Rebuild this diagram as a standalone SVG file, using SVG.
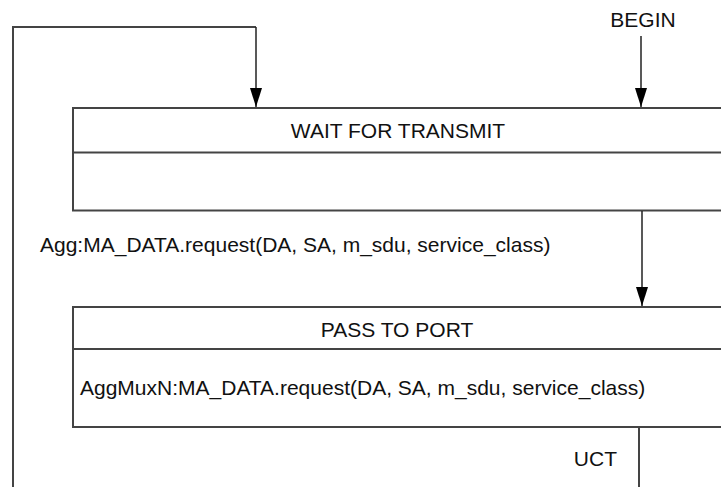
<svg xmlns="http://www.w3.org/2000/svg" width="721" height="487" viewBox="0 0 721 487">
<style>
.box{fill:#fff;stroke:#444;stroke-width:2}
.ln{fill:none;stroke:#444;stroke-width:2}
.c{fill:none;stroke:#222;stroke-width:1.5}
text{font-family:"Liberation Sans",Arial,sans-serif;font-size:21px;fill:#111}
</style>
<defs>
<marker id="ah" markerUnits="userSpaceOnUse" markerWidth="20" markerHeight="12" viewBox="0 0 20 12" refX="19" refY="6" orient="auto">
<path d="M0,0 L19,6 L0,12 Z" fill="#000"/>
</marker>
</defs>
<g id="wait">
<rect class="box" x="73" y="108" width="660" height="102.5"/>
<line class="ln" x1="73" y1="152.5" x2="733" y2="152.5"/>
<text x="398" y="138" text-anchor="middle">WAIT FOR TRANSMIT</text>
</g>
<g id="pass">
<rect class="box" x="73" y="307" width="660" height="120"/>
<line class="ln" x1="73" y1="349" x2="733" y2="349"/>
<text x="397" y="337" text-anchor="middle">PASS TO PORT</text>
<text x="80" y="395">AggMuxN:MA_DATA.request(DA, SA, m_sdu, service_class)</text>
</g>
<g id="connectors">
<text x="643" y="27" text-anchor="middle">BEGIN</text>
<path class="c" d="M641,36 V107" marker-end="url(#ah)"/>
<path class="ln" d="M256,27 H13 V487"/>
<path class="c" d="M256,27 V107" marker-end="url(#ah)"/>
<path class="c" d="M642,211 V306" marker-end="url(#ah)"/>
<text x="40" y="252">Agg:MA_DATA.request(DA, SA, m_sdu, service_class)</text>
<path class="ln" d="M639,427 V487"/>
<text x="617" y="466" text-anchor="end">UCT</text>
</g>
</svg>
